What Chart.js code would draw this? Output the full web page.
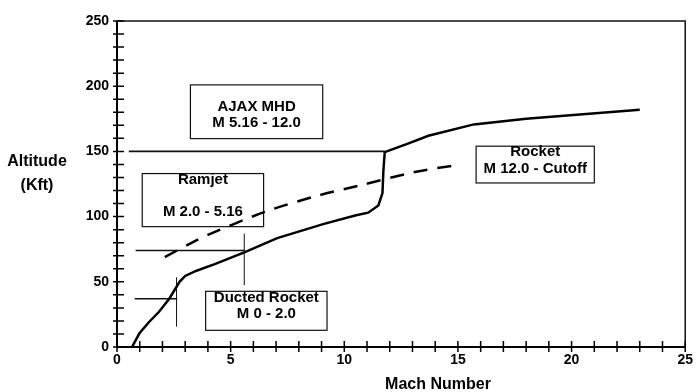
<!DOCTYPE html>
<html>
<head>
<meta charset="utf-8">
<script src="https://cdn.jsdelivr.net/npm/chart.js@4.4.1/dist/chart.umd.min.js"></script>
<style>
  body { margin: 0; background: #fff; }
  #wrap { width: 698px; height: 392px; }
</style>
</head>
<body>
<div id="wrap"><canvas id="myChart" width="698" height="392"></canvas></div>
<script>
// trajectory (solid)
const solidMach = [0.66, 0.98, 1.4, 1.85, 2.3, 2.75, 3.0, 3.5, 4.3, 5.6, 7.05, 9.07, 10.52, 11.05, 11.5, 11.68, 11.72, 11.78, 12.8, 13.7, 15.7, 18.0, 23.0];
const solidAlt = [0, 10.3, 19, 27, 37, 50, 54.5, 58.5, 63.5, 72.5, 83.5, 94.2, 101, 103, 108.5, 118, 135, 149.5, 156, 162, 170.7, 175, 182];

// dashed trajectory
const dashMach = [2.1, 3.3, 4.0, 6.5, 8.9, 10.7, 13.1, 14.9];
const dashAlt = [69, 80, 86, 103.6, 116.4, 124, 134.2, 139.4];

// transition lines
const ajaxLineMach = [0.52, 11.78];
const ajaxLineAlt = [150, 150];
const ramjetLineMach = [0.82, 5.6];
const ramjetLineAlt = [74, 74];
const ramjetMarkMach = [5.6, 5.6];
const ramjetMarkAlt = [47.5, 87];
const ductedLineMach = [0.78, 2.65];
const ductedLineAlt = [37, 37];
const ductedMarkMach = [2.62, 2.62];
const ductedMarkAlt = [15.6, 53.4];

// axes
const machMin = 0, machMax = 25, machStep = 1, machLabelEvery = 5;
const altMin = 0, altMax = 250, altStep = 10, altLabelEvery = 50;

// labelled regions (data coordinates)
const regions = [
    { x0: 3.23, x1: 9.05, y0: 159.8, y1: 201, text: ['AJAX MHD', 'M 5.16 - 12.0'], ty: [184.2, 171.9] },
    { x0: 1.11, x1: 6.45, y0: 92.3, y1: 133, text: ['Ramjet', 'M 2.0 - 5.16'], ty: [128.4, 103.6] },
    { x0: 3.9, x1: 9.24, y0: 12.8, y1: 42.7, text: ['Ducted Rocket', 'M 0 - 2.0'], ty: [37.4, 25.1] },
    { x0: 15.8, x1: 21.0, y0: 125.8, y1: 154, text: ['Rocket', 'M 12.0 - Cutoff'], ty: [149.7, 136.9] }
];

function pts(xs, ys) {
    return xs.map((x, i) => ({ x: x, y: ys[i] }));
}

function thin(xs, ys, w) {
    return { data: pts(xs, ys), borderColor: '#111', borderWidth: w, pointRadius: 0, showLine: true, tension: 0 };
}

const FONT = '"Liberation Sans", Arial, sans-serif';
Chart.defaults.font.family = FONT;
Chart.defaults.color = '#000';

// frame, crossing ticks, region boxes and axis titles
const decor = {
    id: 'decor',
    beforeDatasetsDraw(chart) {
        const c = chart.ctx, a = chart.chartArea;
        const xs = chart.scales.x, ys = chart.scales.y;
        c.save();
        c.strokeStyle = '#111';
        // top and right frame
        c.lineWidth = 1.5;
        c.beginPath();
        c.moveTo(a.left, a.top); c.lineTo(a.right, a.top); c.lineTo(a.right, a.bottom);
        c.stroke();
        // boxes
        c.lineWidth = 1.2;
        regions.forEach(r => {
            const l = xs.getPixelForValue(r.x0), rr = xs.getPixelForValue(r.x1);
            const t = ys.getPixelForValue(r.y1), b = ys.getPixelForValue(r.y0);
            c.fillStyle = '#fff';
            c.fillRect(l, t, rr - l, b - t);
            c.strokeRect(l, t, rr - l, b - t);
        });
        c.restore();
    },
    afterDatasetsDraw(chart) {
        const c = chart.ctx, a = chart.chartArea;
        const xs = chart.scales.x, ys = chart.scales.y;
        c.save();
        c.strokeStyle = '#000';
        // main axes
        c.lineWidth = 2;
        c.beginPath();
        c.moveTo(a.left, a.top); c.lineTo(a.left, a.bottom); c.lineTo(a.right, a.bottom);
        c.stroke();
        // ticks crossing the axes
        c.lineWidth = 1.5;
        c.beginPath();
        xs.ticks.forEach(t => {
            const px = xs.getPixelForValue(t.value);
            c.moveTo(px, a.bottom - 6); c.lineTo(px, a.bottom + 5);
        });
        ys.ticks.forEach(t => {
            const py = ys.getPixelForValue(t.value);
            c.moveTo(a.left - 4, py); c.lineTo(a.left + 7, py);
        });
        c.stroke();
        // region text
        c.fillStyle = '#000';
        c.font = 'bold 15px ' + FONT;
        c.textAlign = 'center';
        c.textBaseline = 'middle';
        regions.forEach(r => {
            const cx = xs.getPixelForValue((r.x0 + r.x1) / 2);
            r.text.forEach((s, i) => c.fillText(s, cx, ys.getPixelForValue(r.ty[i])));
        });
        // axis titles
        c.font = 'bold 16px ' + FONT;
        c.fillText('Altitude', 37, 162);
        c.fillText('(Kft)', 37, 186);
        c.fillText('Mach Number', 438, 385);
        c.restore();
    }
};

new Chart(document.getElementById('myChart'), {
    type: 'scatter',
    data: {
        datasets: [
            { data: pts(solidMach, solidAlt), borderColor: '#000', borderWidth: 2.5, pointRadius: 0, showLine: true, tension: 0 },
            { data: pts(dashMach, dashAlt), borderColor: '#000', borderWidth: 2.5, borderDash: [14, 10], pointRadius: 0, showLine: true, tension: 0.3 },
            thin(ajaxLineMach, ajaxLineAlt, 1.6),
            thin(ramjetLineMach, ramjetLineAlt, 1.4),
            thin(ramjetMarkMach, ramjetMarkAlt, 1),
            thin(ductedLineMach, ductedLineAlt, 1.4),
            thin(ductedMarkMach, ductedMarkAlt, 1)
        ]
    },
    options: {
        responsive: false,
        animation: false,
        layout: { padding: { top: 21, right: 6, left: 0, bottom: 0 } },
        plugins: { legend: { display: false }, tooltip: { enabled: false } },
        scales: {
            x: {
                type: 'linear', min: machMin, max: machMax,
                grid: { display: false, drawTicks: false, tickLength: 0 }, border: { display: false },
                afterFit: s => { s.height = 45; },
                ticks: {
                    stepSize: machStep, autoSkip: false, maxRotation: 0, padding: 5,
                    font: { size: 14, weight: 'bold' },
                    callback: v => (v % machLabelEvery === 0 ? v : '')
                }
            },
            y: {
                type: 'linear', min: altMin, max: altMax,
                grid: { display: false, drawTicks: false, tickLength: 0 }, border: { display: false },
                afterFit: s => { s.width = 117; },
                ticks: {
                    stepSize: altStep, autoSkip: false, padding: 8,
                    font: { size: 14, weight: 'bold' },
                    callback: v => (v % altLabelEvery === 0 ? v : '')
                }
            }
        }
    },
    plugins: [decor]
});
</script>
</body>
</html>
